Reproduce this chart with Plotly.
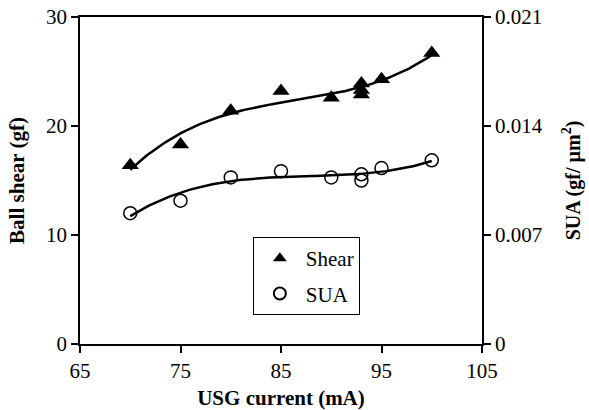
import numpy as np
import plotly.graph_objects as go

# Data
shear_x = [70, 75, 80, 85, 90, 93, 93, 93, 95, 100]
shear_y = [16.4, 18.3, 21.4, 23.2, 22.6, 23.9, 23.3, 22.9, 24.3, 26.7]

sua_x = [70, 75, 80, 85, 90, 93, 93, 95, 100]
sua_y = [0.0084, 0.0092, 0.0107, 0.0111, 0.0107, 0.0109, 0.0105, 0.0113, 0.0118]

x_ticks = [65, 75, 85, 95, 105]
left_ticks = [0, 10, 20, 30]
right_ticks = [0, 0.007, 0.014, 0.021]
right_tick_text = ["0", "0.007", "0.014", "0.021"]

# Cubic trend lines (as in the original spreadsheet trendlines)
xs = np.linspace(min(shear_x), max(shear_x), 120)
shear_fit = np.polyval(np.polyfit(shear_x, shear_y, 3), xs)
sua_fit = np.polyval(np.polyfit(sua_x, sua_y, 3), xs)

font = "Liberation Serif, Times New Roman, serif"

fig = go.Figure()
fig.add_trace(go.Scatter(x=xs, y=shear_fit, mode="lines",
                         line=dict(color="black", width=2.5), showlegend=False, hoverinfo="skip"))
fig.add_trace(go.Scatter(x=xs, y=sua_fit, mode="lines", yaxis="y2",
                         line=dict(color="black", width=2.5), showlegend=False, hoverinfo="skip"))
fig.add_trace(go.Scatter(x=shear_x, y=shear_y, mode="markers", name="Shear", legendgroup="a",
                         marker=dict(symbol="triangle-up", size=15, color="black")))
fig.add_trace(go.Scatter(x=sua_x, y=sua_y, mode="markers", name="SUA", yaxis="y2", legendgroup="b",
                         marker=dict(symbol="circle-open", size=13, color="black",
                                     line=dict(color="black", width=1.5))))

axis_common = dict(showgrid=False, zeroline=False, showline=True, linecolor="black",
                   linewidth=1.5, ticks="outside", ticklen=7, tickwidth=1.5,
                   tickcolor="black", automargin=False)

fig.update_layout(
    width=589, height=410,
    margin=dict(l=80, r=107, t=17, b=66),
    paper_bgcolor="white", plot_bgcolor="white",
    font=dict(family=font, size=21, color="black"),
    xaxis=dict(range=[65, 105], tickvals=x_ticks, mirror=True,
               title=dict(text="<b>USG current (mA)</b>", font=dict(size=21), standoff=8),
               **axis_common),
    yaxis=dict(range=[0, 30], tickvals=left_ticks,
               title=dict(text="<b>Ball shear (gf)</b>", font=dict(size=21), standoff=16),
               **axis_common),
    yaxis2=dict(range=[0, 0.021], tickvals=right_ticks, ticktext=right_tick_text,
                overlaying="y", side="right",
                title=dict(text="<b>SUA (gf/ µm<sup>2</sup>)</b>", font=dict(size=20), standoff=24),
                **axis_common),
    legend=dict(x=0.430, y=0.327, xanchor="left", yanchor="top",
                bordercolor="black", borderwidth=1, bgcolor="white",
                tracegroupgap=5, font=dict(size=21), itemwidth=42,
                itemsizing="constant"),
)

# Remove the default page margin so the figure sits at the window's top-left corner
fig.write_html("out.html", config={"displayModeBar": False},
               post_script="document.body.style.margin='0';")
